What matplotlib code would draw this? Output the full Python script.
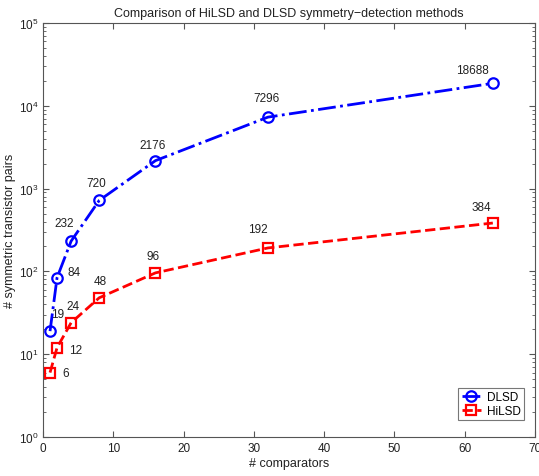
import matplotlib
matplotlib.use("Agg")
import matplotlib.pyplot as plt
from matplotlib.ticker import LogLocator

plt.rcParams['font.family'] = ['Liberation Sans', 'DejaVu Sans']
plt.rcParams['mathtext.fontset'] = 'custom'
plt.rcParams['mathtext.rm'] = 'Liberation Sans'

comparators = [1, 2, 4, 8, 16, 32, 64]
dlsd = [19, 84, 232, 720, 2176, 7296, 18688]
hilsd = [6, 12, 24, 48, 96, 192, 384]
dlsd_labels = ['19', '84', '232', '720', '2176', '7296', '18688']
hilsd_labels = ['6', '12', '24', '48', '96', '192', '384']

fig = plt.figure(figsize=(5.39, 4.77), dpi=100)
W, H = 539, 477
ax = fig.add_axes([43 / W, (H - 438) / H, 492 / W, 414 / H])

ax.plot(comparators, dlsd, color='#0000ff', linestyle='-.', linewidth=2.0,
        marker='o', markersize=7.5, markerfacecolor='none', markeredgewidth=1.6,
        label='DLSD')
ax.plot(comparators, hilsd, color='#ff0000', linestyle='--', linewidth=2.0,
        marker='s', markersize=6.5, markerfacecolor='none', markeredgewidth=1.6,
        label='HiLSD')

dl_off = [(8, 17), (17, 6), (-7, 18), (-3, 17), (-3, 16), (-1, 19), (-20, 13)]
hl_off = [(16, 0), (19, -2), (2, 17), (1, 17), (-2, 17), (-10, 19), (-11, 16)]
for x, y, t, o in zip(comparators, dlsd, dlsd_labels, dl_off):
    ax.annotate(t, (x, y), xytext=o, textcoords='offset pixels',
                ha='center', va='center', fontsize=8.5, color='#222222')
for x, y, t, o in zip(comparators, hilsd, hilsd_labels, hl_off):
    ax.annotate(t, (x, y), xytext=o, textcoords='offset pixels',
                ha='center', va='center', fontsize=8.5, color='#222222')

ax.set_yscale('log')
ax.set_xlim(0, 70)
ax.set_ylim(1, 1e5)
ax.set_xticks(range(0, 71, 10))
ax.yaxis.set_major_locator(LogLocator(base=10, numticks=10))
ax.yaxis.set_minor_locator(LogLocator(base=10, subs=range(2, 10), numticks=20))
ax.tick_params(which='both', direction='in', top=True, right=True, labelsize=8.5,
               colors='#555555', labelcolor='#222222')
ax.tick_params(which='major', length=4)
ax.tick_params(which='minor', length=2)
for s in ax.spines.values():
    s.set_color('#555555')

ax.set_title('Comparison of HiLSD and DLSD symmetry\u2212detection methods', fontsize=9, pad=5, color='#222222')
ax.set_xlabel('# comparators', fontsize=9, labelpad=2, color='#222222')
ax.set_ylabel('# symmetric transistor pairs', fontsize=9, labelpad=2, color='#222222')

leg = ax.legend(loc='lower right', bbox_to_anchor=(0.978, 0.04), fontsize=8.5, fancybox=False,
                edgecolor='#555555', handlelength=1.6, borderpad=0.3, labelspacing=0.15,
                handletextpad=0.5, borderaxespad=0.0)
leg.get_frame().set_linewidth(0.8)

fig.savefig('out.png', dpi=100)
